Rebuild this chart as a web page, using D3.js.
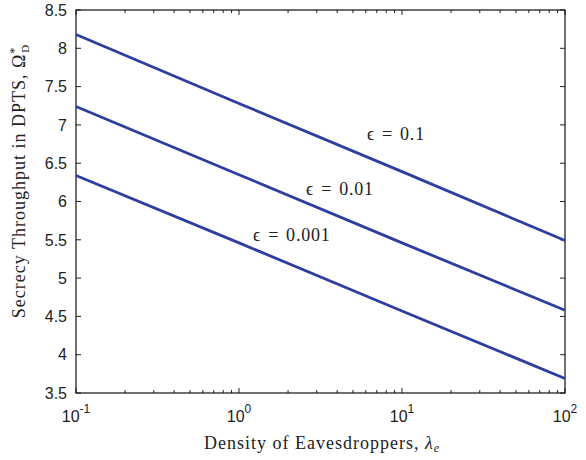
<!DOCTYPE html>
<html>
<head>
<meta charset="utf-8">
<script src="https://cdn.jsdelivr.net/npm/d3@7"></script>
<style>
  body { margin: 0; background: #fff; }
  svg { display: block; }
</style>
</head>
<body>
<div id="chart"></div>
<script>
// data (log x axis, values at each decade)
const densities = [0.1, 1, 10, 100];
const seriesNames = ['0.1', '0.01', '0.001'];
const throughput01 = [8.18, 7.28, 6.39, 5.49];
const throughput001 = [7.24, 6.35, 5.46, 4.58];
const throughput0001 = [6.34, 5.46, 4.57, 3.69];
const labelAt = [[6.1, 6.80], [2.58, 6.08], [1.22, 5.49]];
const yTicks = [3.5, 4, 4.5, 5, 5.5, 6, 6.5, 7, 7.5, 8, 8.5];
const xTicks = [0.1, 1, 10, 100];
const xTickExp = ['-1', '0', '1', '2'];

const W = 586, H = 460;
const m = { left: 76, right: 21, top: 10, bottom: 67 };
const iw = W - m.left - m.right, ih = H - m.top - m.bottom;

const svg = d3.select('#chart').append('svg').attr('width', W).attr('height', H);
const g = svg.append('g').attr('transform', `translate(${m.left},${m.top})`);

const x = d3.scaleLog().domain([0.1, 100]).range([0, iw]);
const y = d3.scaleLinear().domain([3.5, 8.5]).range([ih, 0]);

const tickFont = 'Liberation Sans, Arial, sans-serif';
const serif = 'Liberation Serif, Times New Roman, serif';

// minor log ticks
const minor = [];
for (let d = 0.1; d < 100; d *= 10) for (let k = 2; k <= 9; k++) minor.push(d * k);

const ticks = g.append('g').attr('stroke', '#222').attr('stroke-width', 1);
minor.forEach(v => {
  ticks.append('line').attr('x1', x(v)).attr('x2', x(v)).attr('y1', ih).attr('y2', ih - 3);
  ticks.append('line').attr('x1', x(v)).attr('x2', x(v)).attr('y1', 0).attr('y2', 3);
});
xTicks.forEach(v => {
  ticks.append('line').attr('x1', x(v)).attr('x2', x(v)).attr('y1', ih).attr('y2', ih - 5);
  ticks.append('line').attr('x1', x(v)).attr('x2', x(v)).attr('y1', 0).attr('y2', 5);
});
yTicks.forEach(v => {
  ticks.append('line').attr('x1', 0).attr('x2', 5).attr('y1', y(v)).attr('y2', y(v));
  ticks.append('line').attr('x1', iw).attr('x2', iw - 5).attr('y1', y(v)).attr('y2', y(v));
});

// frame
g.append('rect').attr('width', iw).attr('height', ih)
  .attr('fill', 'none').attr('stroke', '#111').attr('stroke-width', 1.2);

// y tick labels
g.append('g').selectAll('text').data(yTicks).join('text')
  .attr('x', -9).attr('y', d => y(d)).attr('dy', '0.36em')
  .attr('text-anchor', 'end')
  .attr('font-family', tickFont).attr('font-size', 16).attr('fill', '#222')
  .text(d => d3.format('')(d));

// x tick labels 10^n
const xl = g.append('g').selectAll('text').data(xTicks).join('text')
  .attr('x', d => x(d)).attr('y', ih + 29)
  .attr('text-anchor', 'middle')
  .attr('font-family', tickFont).attr('font-size', 16).attr('fill', '#222');
xl.append('tspan').text('10');
xl.append('tspan').attr('dy', -9).attr('font-size', 12).text((d, i) => xTickExp[i]);

// lines
const series = [throughput01, throughput001, throughput0001];
const line = d3.line().x((d, i) => x(densities[i])).y(d => y(d));
g.append('g').selectAll('path').data(series).join('path')
  .attr('d', line).attr('fill', 'none')
  .attr('stroke', '#2d3ea0').attr('stroke-width', 2.8);

// curve labels
const lab = g.append('g').selectAll('text').data(seriesNames).join('text')
  .attr('x', (d, i) => x(labelAt[i][0])).attr('y', (d, i) => y(labelAt[i][1]))
  .attr('font-family', serif).attr('font-size', 18).attr('fill', '#222')
  .attr('letter-spacing', 0.8);
lab.append('tspan').text('\u03f5');
lab.append('tspan').attr('dx', 7).text('=');
lab.append('tspan').attr('dx', 7).text(d => d);

// axis titles
const xt = svg.append('text')
  .attr('x', 322).attr('y', 449)
  .attr('text-anchor', 'middle')
  .attr('font-family', serif).attr('font-size', 18).attr('fill', '#222')
  .attr('letter-spacing', 1);
xt.append('tspan').text('Density of Eavesdroppers, ');
xt.append('tspan').attr('font-style', 'italic').text('\u03bb');
xt.append('tspan').attr('font-style', 'italic').attr('font-size', 12).attr('dy', 3).text('e');

const yt = svg.append('text')
  .attr('transform', `translate(25,181) rotate(-90)`)
  .attr('text-anchor', 'middle')
  .attr('font-family', serif).attr('font-size', 18).attr('fill', '#222')
  .attr('letter-spacing', 1);
yt.append('tspan').text('Secrecy Throughput in DPTS, \u03a9');
yt.append('tspan').attr('font-size', 12).attr('dy', -7).text('*');
yt.append('tspan').attr('font-size', 11).attr('dx', -6).attr('dy', 11).text('D');
</script>
</body>
</html>
